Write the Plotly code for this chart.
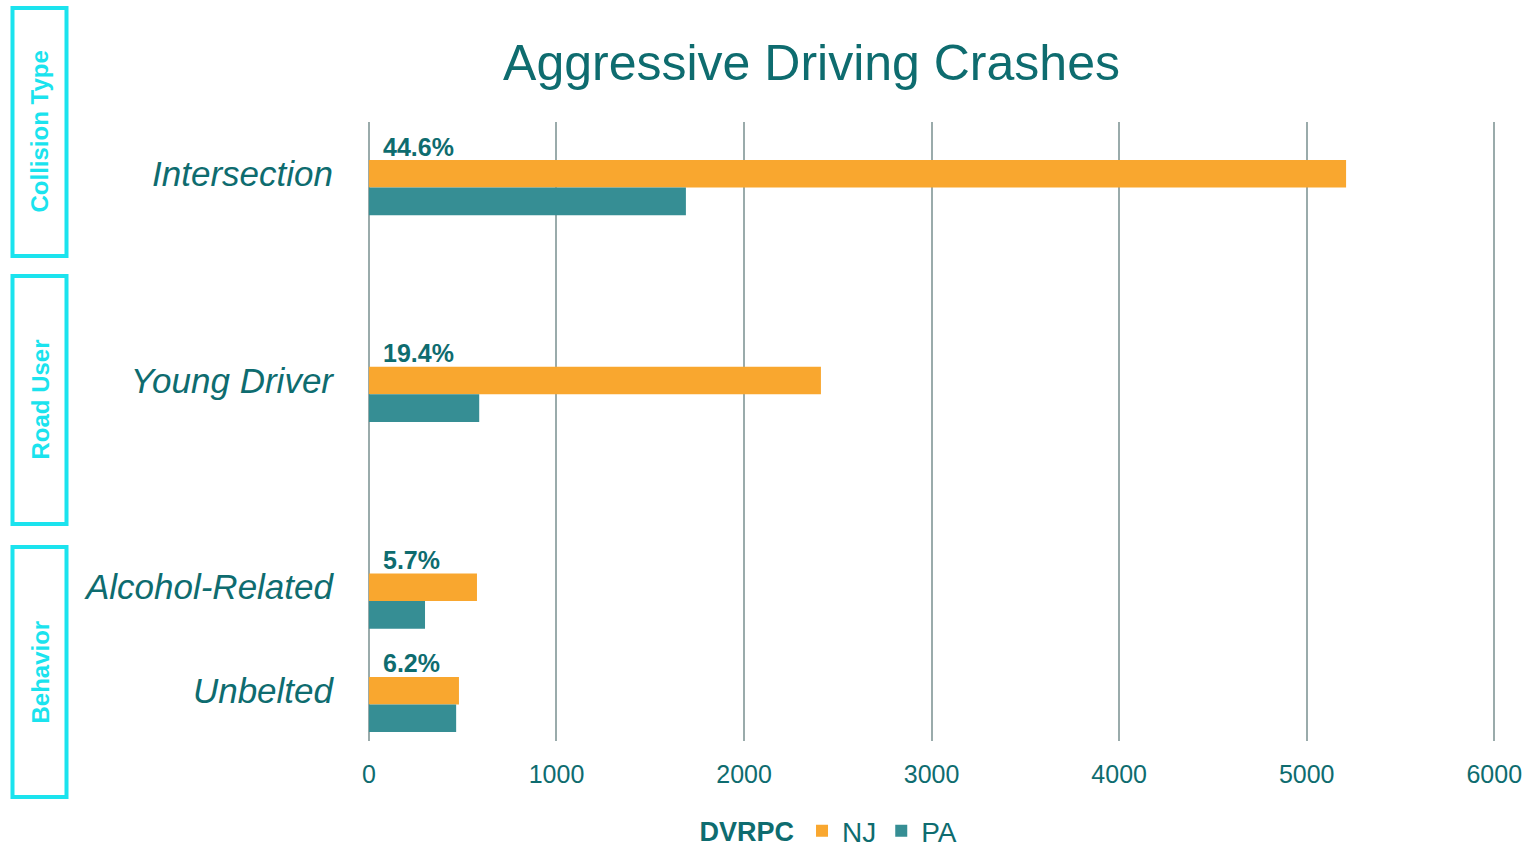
import plotly.graph_objects as go

# ---- data ----
categories = ["Intersection", " ", "Young Driver", "  ", "Alcohol-Related", "Unbelted"]
nj_values = [5210, None, 2410, None, 576, 480]
pa_values = [1690, None, 588, None, 299, 465]
pct_labels = ["44.6%", None, "19.4%", None, "5.7%", "6.2%"]
x_ticks = [0, 1000, 2000, 3000, 4000, 5000, 6000]
group_boxes = [("Collision Type", 8, 256), ("Road User", 276, 524), ("Behavior", 547, 797)]

TEAL_TXT = "#0E6C6F"
ORANGE = "#F9A72F"
PA_TEAL = "#368E94"
CYAN = "#1BE3EE"
GRID = "#9AABAB"
FONT_R = "Liberation Sans, Arial, sans-serif"

W, H = 1537, 848
L, R, T, B = 368, 39, 122, 107
pw, ph = W - L - R, H - T - B


def px2x(px):
    return (px - L) / pw


def py2y(py):
    return (H - B - py) / ph


fig = go.Figure()
fig.add_trace(go.Bar(name="NJ", y=categories, x=nj_values, orientation="h",
                     marker=dict(color=ORANGE, line=dict(width=0))))
fig.add_trace(go.Bar(name="PA", y=categories, x=pa_values, orientation="h",
                     marker=dict(color=PA_TEAL, line=dict(width=0))))

annotations = []
for cat, lab in zip(categories, pct_labels):
    if lab is None:
        continue
    annotations.append(dict(x=0, y=cat, xref="x", yref="y", text=lab, showarrow=False,
                            xanchor="left", yanchor="bottom", xshift=12, yshift=25,
                            font=dict(family=FONT_R, size=25, color=TEAL_TXT, weight="bold")))

shapes = []
for name, top, bot in group_boxes:
    shapes.append(dict(type="rect", xref="paper", yref="paper",
                       x0=px2x(12.5), x1=px2x(66.5), y0=py2y(bot), y1=py2y(top),
                       line=dict(color=CYAN, width=4), fillcolor="rgba(0,0,0,0)"))
    annotations.append(dict(x=px2x(39.5), y=py2y((top + bot) / 2), xref="paper", yref="paper",
                            text=name, textangle=-90, showarrow=False,
                            xanchor="center", yanchor="middle",
                            font=dict(family=FONT_R, size=24, color=CYAN, weight="bold")))

fig.update_layout(
    width=W, height=H,
    margin=dict(l=L, r=R, t=T, b=B, pad=0, autoexpand=False),
    paper_bgcolor="white", plot_bgcolor="white",
    barmode="group", bargap=0.467, bargroupgap=0,
    title=dict(text="Aggressive Driving Crashes", x=811.5 / W, xref="container", xanchor="center",
               y=1 - 62 / H, yref="container", yanchor="middle",
               font=dict(family=FONT_R, size=50, color=TEAL_TXT)),
    xaxis=dict(range=[-5, 6020], tickvals=x_ticks, showgrid=True, gridcolor=GRID, gridwidth=2,
               zeroline=True, zerolinecolor=GRID, zerolinewidth=2, showline=False, ticks="",
               tickfont=dict(family=FONT_R, size=25, color=TEAL_TXT), ticklabelstandoff=16),
    yaxis=dict(categoryorder="array", categoryarray=categories,
               range=[5 + 36.5 / 103.25, -65.5 / 103.25],
               showgrid=False, zeroline=False, showline=False, ticks="",
               tickfont=dict(family=FONT_R, size=35, color=TEAL_TXT, style="italic"),
               ticklabelstandoff=34, ticklabelshift=14),
    legend=dict(orientation="h", x=830 / W, y=1 - 831 / H, xref="container", yref="container",
                xanchor="center", yanchor="middle",
                title=dict(text="<b>DVRPC</b>", side="left",
                           font=dict(family=FONT_R, size=27, color=TEAL_TXT)),
                font=dict(family=FONT_R, size=28, color=TEAL_TXT), traceorder="normal"),
    annotations=annotations,
    shapes=shapes,
    showlegend=True,
)

fig.write_html("out.html")
